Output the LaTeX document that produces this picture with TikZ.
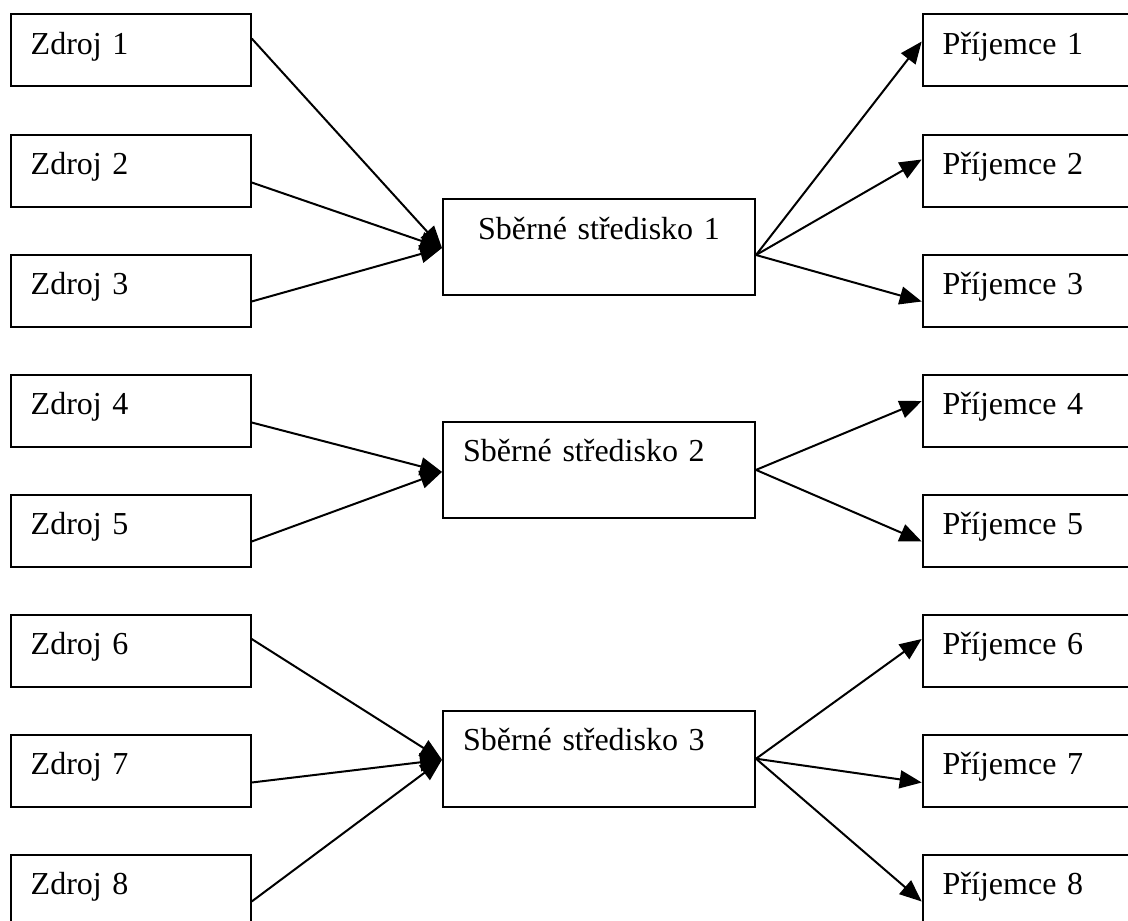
\documentclass[tikz,border=0pt]{standalone}
\usepackage{fontspec}
\setmainfont{Liberation Serif}
\usetikzlibrary{arrows.meta}

\tikzset{
  box/.style={draw, line width=1pt, minimum width=120pt, minimum height=36pt,
    text width=100pt, inner xsep=10pt, inner ysep=0pt, text height=20.2pt, text depth=15.8pt,
    align=left, font=\fontsize{16}{19}\selectfont},
  hub/.style={box, minimum width=156pt, minimum height=48pt, text width=136pt,
    text height=20pt, text depth=28pt},
  link/.style={line width=1pt, -{Triangle[length=11pt, width=9pt]}}
}

\begin{document}
\begin{tikzpicture}[x=0.5pt, y=-0.5pt]
	\clip (0, 0) rectangle (1128, 920);
	% zdroje
	\node[box] (z1) at (130.7, 50.5) {Zdroj 1};
	\node[box] (z2) at (130.7, 170.5) {Zdroj 2};
	\node[box] (z3) at (130.7, 290.5) {Zdroj 3};
	\node[box] (z4) at (130.7, 410.5) {Zdroj 4};
	\node[box] (z5) at (130.7, 530.5) {Zdroj 5};
	\node[box] (z6) at (130.7, 650.5) {Zdroj 6};
	\node[box] (z7) at (130.7, 770.5) {Zdroj 7};
	\node[box] (z8) at (130.7, 890.5) {Zdroj 8};
	% sberna strediska
	\node[hub, align=center] (s1) at (599, 247) {Sběrné středisko 1};
	\node[hub] (s2) at (599, 469.9) {Sběrné středisko 2};
	\node[hub] (s3) at (599, 758.7) {Sběrné středisko 3};
	% prijemci
	\node[box] (p1) at (1042.7, 50.5) {Příjemce 1};
	\node[box] (p2) at (1042.7, 170.5) {Příjemce 2};
	\node[box] (p3) at (1042.7, 290.5) {Příjemce 3};
	\node[box] (p4) at (1042.7, 410.5) {Příjemce 4};
	\node[box] (p5) at (1042.7, 530.5) {Příjemce 5};
	\node[box] (p6) at (1042.7, 650.5) {Příjemce 6};
	\node[box] (p7) at (1042.7, 770.5) {Příjemce 7};
	\node[box] (p8) at (1042.7, 890.5) {Příjemce 8};

	\draw[link] ([yshift=6pt]z1.east) -- ([yshift=-0.5pt]s1.west);
	\draw[link] ([yshift=-6pt]z2.east) -- ([yshift=-0.5pt]s1.west);
	\draw[link] ([yshift=-5.5pt]z3.east) -- ([yshift=-0.5pt]s1.west);
	\draw[link] ([yshift=-4pt]s1.east) -- ([yshift=4.5pt]p1.west);
	\draw[link] ([yshift=-4pt]s1.east) -- ([yshift=5.5pt]p2.west);
	\draw[link] ([yshift=-4pt]s1.east) -- ([yshift=-5.5pt]p3.west);

	\draw[link] ([yshift=-6pt]z4.east) -- ([yshift=-1pt]s2.west);
	\draw[link] ([yshift=-5.5pt]z5.east) -- ([yshift=-1pt]s2.west);
	\draw[link] (s2.east) -- ([yshift=4.75pt]p4.west);
	\draw[link] (s2.east) -- ([yshift=-5.5pt]p5.west);

	\draw[link] ([yshift=5.75pt]z6.east) -- ([yshift=-0.5pt]s3.west);
	\draw[link] ([yshift=-6pt]z7.east) -- ([yshift=-0.5pt]s3.west);
	\draw[link] ([yshift=-5.5pt]z8.east) -- ([yshift=-0.5pt]s3.west);
	\draw[link] (s3.east) -- ([yshift=5.75pt]p6.west);
	\draw[link] (s3.east) -- ([yshift=-6pt]p7.west);
	\draw[link] (s3.east) -- ([yshift=-5.5pt]p8.west);
\end{tikzpicture}
\end{document}
